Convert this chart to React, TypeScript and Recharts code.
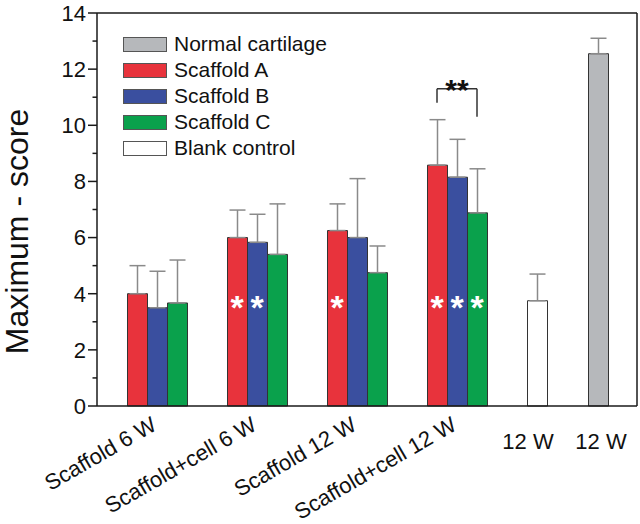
import React from 'react';
import {
  ComposedChart,
  Bar,
  XAxis,
  YAxis,
  ErrorBar,
  Scatter,
  ReferenceLine,
  Legend,
} from 'recharts';

// ---------- data ----------
const groupLabels = ['Scaffold 6 W', 'Scaffold+cell 6 W', 'Scaffold 12 W', 'Scaffold+cell 12 W'];
const groupPositions = [1, 2, 3, 4];
const scaffoldA = [4.0, 6.0, 6.25, 8.58];
const scaffoldAErr = [1.0, 0.98, 0.95, 1.62];
const scaffoldB = [3.5, 5.83, 6.0, 8.15];
const scaffoldBErr = [1.3, 1.0, 2.1, 1.35];
const scaffoldC = [3.67, 5.4, 4.75, 6.88];
const scaffoldCErr = [1.53, 1.8, 0.95, 1.57];

const controlLabels = ['12 W', '12 W'];
const controlPositions = [4.8, 5.41];
const blankControl = 3.75;
const blankControlErr = 0.95;
const normalCartilage = 12.55;
const normalCartilageErr = 0.55;

const yTicks = [0, 1, 2, 3, 4, 5, 6, 7, 8, 9, 10, 11, 12, 13, 14];
const yDomain = [0, 14];
const xDomain = [0.4, 5.8];

// significance markers (white stars inside bars)
const sigA = [false, true, true, true];
const sigB = [false, true, false, true];
const sigC = [false, false, false, true];
const sigLevel = 3.78;
const seriesOffsets = [-0.2, 0, 0.2];

// bracket between Scaffold A and Scaffold C at Scaffold+cell 12 W
const bracketLeftX = 3.8;
const bracketRightX = 4.2;
const bracketLeftY = 10.8;
const bracketTopY = 11.3;
const bracketRightY = 10.3;
const bracketText = '**';

const legendNames = ['Normal cartilage', 'Scaffold A', 'Scaffold B', 'Scaffold C', 'Blank control'];

// ---------- style ----------
const FONT = '"Liberation Sans", Arial, Helvetica, sans-serif';
const RED = '#e8333c';
const BLUE = '#3a4f9f';
const GREEN = '#0aa14c';
const GREY = '#b6b8bb';
const WHITE = '#ffffff';
const legendColors = [GREY, RED, BLUE, GREEN, WHITE];
const AXIS = '#1a1a1a';
const ERR = '#8a8a8a';
const Y_TICK_SIZE = 9;
const Y_TICK_MARGIN = 2;
const controlLabelShift = [-9, 3];

// ---------- build rows ----------
const rows: any[] = groupPositions.map((x, i) => ({
  x,
  a: scaffoldA[i],
  aErr: [0, scaffoldAErr[i]],
  b: scaffoldB[i],
  bErr: [0, scaffoldBErr[i]],
  c: scaffoldC[i],
  cErr: [0, scaffoldCErr[i]],
}));
rows.push({ x: controlPositions[0], blank: blankControl, blankErr: [0, blankControlErr] });
rows.push({ x: controlPositions[1], normal: normalCartilage, normalErr: [0, normalCartilageErr] });

const sigStars: any[] = [];
groupPositions.forEach((gx, i) => {
  [sigA, sigB, sigC].forEach((s, k) => {
    if (s[i]) sigStars.push({ x: gx + seriesOffsets[k], y: sigLevel });
  });
});
const bracketLabelPoint = [{ x: (bracketLeftX + bracketRightX) / 2, y: bracketTopY }];

const xTickValues = [...groupPositions, ...controlPositions];
const xTickLabels = [...groupLabels, ...controlLabels];

// ---------- custom pieces ----------
const YTick = (props: any) => {
  const { x, y, payload } = props;
  const v = payload.value;
  const axisX = x + Y_TICK_SIZE + Y_TICK_MARGIN;
  const major = v % 2 === 0;
  return (
    <g>
      <line x1={axisX - (major ? 9 : 4.5)} x2={axisX} y1={y} y2={y} stroke={AXIS} strokeWidth={1.5} />
      {major && (
        <text x={x} y={y} dy="0.36em" textAnchor="end" fontSize={22} fontFamily={FONT} fill="#111">
          {v}
        </text>
      )}
    </g>
  );
};

const XTick = (props: any) => {
  const { x, y, payload } = props;
  const idx = xTickValues.findIndex((v) => Math.abs(v - payload.value) < 1e-6);
  const label = idx >= 0 ? xTickLabels[idx] : '';
  if (idx < groupPositions.length) {
    return (
      <text
        x={0}
        y={0}
        textAnchor="end"
        transform={`translate(${x + 1},${y + 21}) rotate(-30)`}
        fontSize={22}
        fontFamily={FONT}
        fill="#111"
      >
        {label}
      </text>
    );
  }
  const shift = controlLabelShift[idx - groupPositions.length] || 0;
  return (
    <text x={x + shift} y={y + 41} textAnchor="middle" fontSize={22} fontFamily={FONT} fill="#111">
      {label}
    </text>
  );
};

const YLabel = (props: any) => {
  const vb = props.viewBox || { x: 0, y: 13, width: 97, height: 393 };
  const cx = vb.x + 28;
  const cy = vb.y + vb.height / 2 + 22;
  return (
    <text
      transform={`translate(${cx},${cy}) rotate(-90)`}
      textAnchor="middle"
      fontSize={32}
      fontFamily={FONT}
      fill="#111"
    >
      Maximum - score
    </text>
  );
};

const WhiteStar = (props: any) => {
  const { cx, cy } = props;
  return (
    <text x={cx} y={cy + 19} textAnchor="middle" fontSize={34} fontWeight="bold" fontFamily={FONT} fill="#ffffff">
      *
    </text>
  );
};

const BracketStars = (props: any) => {
  const { cx, cy } = props;
  return (
    <text x={cx} y={cy + 11} textAnchor="middle" fontSize={30} fontWeight="bold" fontFamily={FONT} fill="#111">
      {bracketText}
    </text>
  );
};

const LegendBox = () => (
  <div style={{ fontFamily: FONT, fontSize: 21, color: '#111', lineHeight: '26px' }}>
    {legendNames.map((n, i) => (
      <div key={n} style={{ display: 'flex', alignItems: 'center', height: 26 }}>
        <div
          style={{
            width: 42,
            height: 13,
            background: legendColors[i],
            border: '1px solid #555',
            marginRight: 7,
          }}
        />
        <span>{n}</span>
      </div>
    ))}
  </div>
);

export default function App() {
  const barCommon = { barSize: 20, stroke: '#333', strokeWidth: 1, isAnimationActive: false } as any;
  const errCommon = { width: 8, stroke: ERR, strokeWidth: 1.5, direction: 'y' } as any;
  return (
    <div style={{ position: 'absolute', left: 0, top: 0, width: 640, height: 524, background: '#fff' }}>
      <ComposedChart
        width={640}
        height={524}
        data={rows}
        margin={{ top: 13, right: 3, bottom: 0, left: 0 }}
        barGap={0}
      >
        <XAxis
          xAxisId="x"
          dataKey="x"
          type="number"
          domain={xDomain}
          ticks={xTickValues}
          interval={0}
          tickLine={false}
          tickSize={0}
          height={118}
          axisLine={{ stroke: AXIS, strokeWidth: 1.5 }}
          tick={<XTick />}
        />
        <XAxis xAxisId="blank" dataKey="x" type="number" domain={xDomain} height={0} hide />
        <XAxis xAxisId="normal" dataKey="x" type="number" domain={xDomain} height={0} hide />
        <XAxis xAxisId="ann" dataKey="x" type="number" domain={xDomain} height={0} hide />
        <YAxis
          type="number"
          domain={yDomain}
          ticks={yTicks}
          interval={0}
          width={97}
          tickLine={false}
          tickSize={Y_TICK_SIZE}
          tickMargin={Y_TICK_MARGIN}
          axisLine={{ stroke: AXIS, strokeWidth: 1.5 }}
          tick={<YTick />}
          label={<YLabel />}
        />
        <ReferenceLine xAxisId="x" y={yDomain[1]} stroke={AXIS} strokeWidth={1.5} />
        <ReferenceLine xAxisId="x" x={xDomain[1]} stroke={AXIS} strokeWidth={1.5} />

        <Bar xAxisId="x" dataKey="a" fill={RED} {...barCommon}>
          <ErrorBar dataKey="aErr" {...errCommon} />
        </Bar>
        <Bar xAxisId="x" dataKey="b" fill={BLUE} {...barCommon}>
          <ErrorBar dataKey="bErr" {...errCommon} />
        </Bar>
        <Bar xAxisId="x" dataKey="c" fill={GREEN} {...barCommon}>
          <ErrorBar dataKey="cErr" {...errCommon} />
        </Bar>
        <Bar xAxisId="blank" dataKey="blank" fill={WHITE} {...barCommon}>
          <ErrorBar dataKey="blankErr" {...errCommon} />
        </Bar>
        <Bar xAxisId="normal" dataKey="normal" fill={GREY} {...barCommon}>
          <ErrorBar dataKey="normalErr" {...errCommon} />
        </Bar>

        <ReferenceLine
          xAxisId="x"
          segment={[
            { x: bracketLeftX, y: bracketLeftY },
            { x: bracketLeftX, y: bracketTopY },
          ]}
          stroke="#333"
          strokeWidth={1.5}
        />
        <ReferenceLine
          xAxisId="x"
          segment={[
            { x: bracketLeftX, y: bracketTopY },
            { x: bracketRightX, y: bracketTopY },
          ]}
          stroke="#333"
          strokeWidth={1.5}
        />
        <ReferenceLine
          xAxisId="x"
          segment={[
            { x: bracketRightX, y: bracketTopY },
            { x: bracketRightX, y: bracketRightY },
          ]}
          stroke="#333"
          strokeWidth={1.5}
        />

        <Scatter xAxisId="ann" dataKey="y" data={sigStars} shape={<WhiteStar />} isAnimationActive={false} legendType="none" />
        <Scatter xAxisId="ann" dataKey="y" data={bracketLabelPoint} shape={<BracketStars />} isAnimationActive={false} legendType="none" />

        <Legend
          layout="vertical"
          verticalAlign="middle"
          align="center"
          content={<LegendBox />}
          wrapperStyle={{ position: 'absolute', left: 123, top: 31, width: 220, height: 132 }}
        />
      </ComposedChart>
    </div>
  );
}
